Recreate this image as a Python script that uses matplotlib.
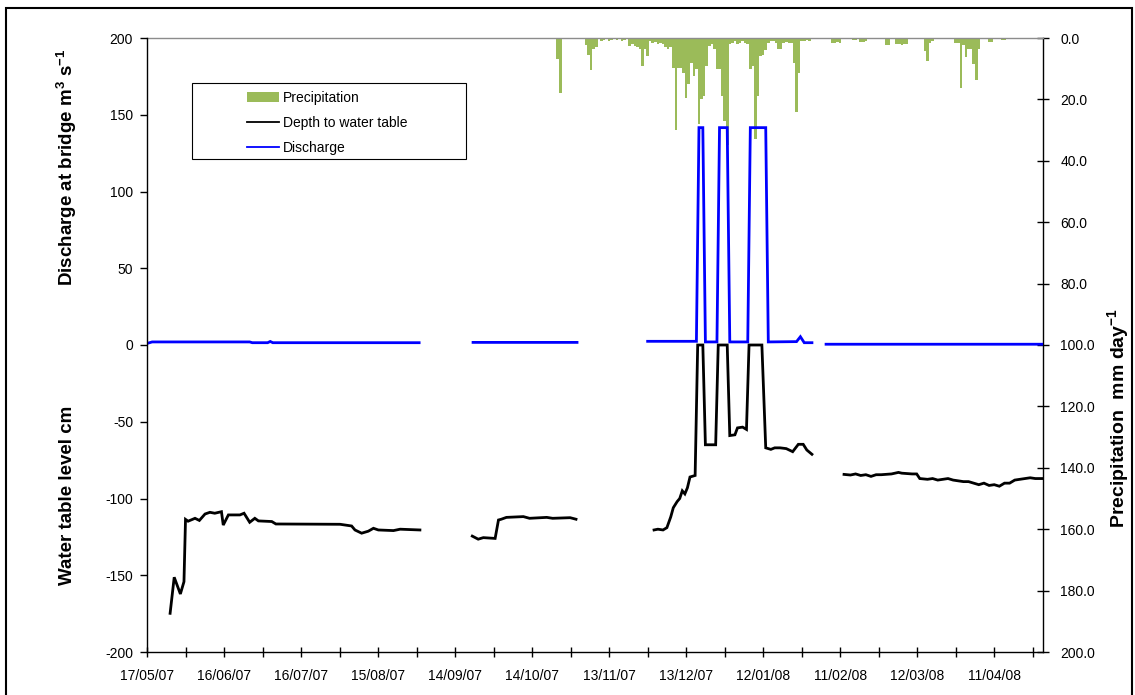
import numpy as np
import pandas as pd
import matplotlib
matplotlib.use('Agg')
import matplotlib.pyplot as plt
import matplotlib.dates as mdates
from matplotlib.lines import Line2D
from matplotlib.patches import Patch, Rectangle
from matplotlib.ticker import FixedLocator, FormatStrFormatter

plt.rcParams['font.family'] = ['Liberation Sans', 'DejaVu Sans']
plt.rcParams['axes.unicode_minus'] = False
plt.rcParams['mathtext.fontset'] = 'custom'
plt.rcParams['mathtext.rm'] = 'Liberation Sans:bold'
plt.rcParams['mathtext.bf'] = 'Liberation Sans:bold'
plt.rcParams['mathtext.it'] = 'Liberation Sans:bold'
plt.rcParams['mathtext.default'] = 'bf'

# ---------------- data ----------------
START = '2007-05-17'
X_END_DAY = 349          # axis end, days after START
TICK_STEP = 30           # labelled ticks every 30 days

# Precipitation (mm/day) -- day offset from START, value
precip_days = [160, 161, 163, 166, 168, 171, 172, 173, 174, 175, 177, 178, 180, 181, 183,
               185, 186, 188, 189, 190, 191, 192, 193, 194, 195, 196, 197, 198, 199, 200,
               201, 202, 203, 204, 205, 206, 207, 208, 209, 210, 211, 212, 213, 214, 215,
               216, 217, 218, 219, 220, 221, 222, 223, 224, 225, 226, 227, 228, 229, 230,
               231, 232, 233, 234, 235, 236, 237, 238, 239, 240, 241, 242, 243, 244, 245,
               246, 247, 248, 249, 250, 251, 252, 253, 254, 255, 256, 257, 258, 267, 268,
               269, 270, 275, 276, 278, 279, 280, 288, 289, 292, 293, 294, 295, 296, 303,
               304, 305, 306, 315, 316, 317, 318, 319, 320, 321, 322, 323, 324, 328, 329,
               333, 334]
precip_mm = [7, 18, 0.4, 0.3, 0.4, 2.3, 5.5, 10.4, 3.5, 3, 1, 0.5, 1, 0.5, 0.5,
             1, 0.5, 2.5, 2, 2.5, 3, 3.7, 9.1, 3.7, 5.9, 1, 1.5, 1.2, 2, 1.5,
             2, 3, 3.5, 3, 9.7, 30, 9.7, 9.7, 11.3, 19.7, 15, 8, 12.4, 10, 28,
             20, 19, 9, 2.5, 2, 3.5, 10, 10, 19, 27, 35, 2, 1.5, 1, 2,
             1.5, 1, 1.5, 2, 10, 9, 33, 19, 6, 5.5, 4, 1.5, 1, 1, 1.5,
             3.7, 3.7, 1.5, 1.2, 1.5, 1.5, 8, 24, 11.3, 1, 1, 0.8, 1, 1.5, 1.5,
             1.2, 1.5, 0.8, 0.8, 1.3, 1.3, 1, 2.4, 2.4, 2, 2, 2.2, 2, 2, 4.2,
             7.5, 1.5, 1, 1.5, 1.5, 16.2, 2.4, 6.1, 3.7, 3.7, 8.6, 13.7, 3.7, 1.3, 1.3,
             0.7, 0.7]

# Discharge at bridge (m3/s) -- NaN marks a gap in the record
discharge_days = [0, 2, 40, 41, 47, 48, 49, 106, 115,
                  127, 167.5, 180,
                  195, 214, 215, 216.5, 217.5, 222, 223, 226, 227, 234, 235, 241, 242,
                  253, 254.5, 256, 259, 262,
                  264.5, 349]
discharge_vals = [1.0, 2.0, 2.0, 1.5, 1.5, 2.3, 1.5, 1.5, np.nan,
                  1.7, 1.7, np.nan,
                  2.4, 2.4, 141.6, 141.6, 2.0, 2.0, 141.6, 141.6, 2.0, 2.0, 141.6, 141.6, 2.0,
                  2.2, 5.4, 1.5, 1.5, np.nan,
                  0.5, 0.5]

# Depth to water table (cm) -- NaN marks a gap in the record
wt_days = [9, 10.6, 13, 14.4, 15, 16, 18.7, 20.4, 22.6, 24.5, 26.4, 29, 29.7, 31.7, 36.2,
           37.8, 40, 42, 43.4, 48.6, 50.2, 75.2, 79.7, 81, 83.6, 86.2, 88.2, 90.1, 96,
           98.6, 106.3, 115,
           126.7, 129, 131, 135.6, 136.9, 138, 140, 146.6, 149, 155.7, 158, 164.8, 167.1, 180,
           197.5, 199, 201, 202.5, 204, 205, 206.5, 207.5, 208.5, 209.5, 210.5, 211.5, 213.5,
           214.5, 216.5, 217.5, 221.5, 222.5, 226, 227, 229, 230, 232, 233.5, 234.5, 239.5,
           241, 243, 244.5, 246.6, 249, 251.5, 253.7, 255.6, 257, 259, 265,
           271.5, 274, 276, 278, 280, 282, 284, 286, 290, 292.7, 294, 298, 299.8, 301, 304,
           306, 308, 310, 312, 314, 316, 318, 320, 322, 324, 326, 328, 330, 332, 334, 336,
           338, 340, 342, 344, 346, 349]
wt_vals = [-174.8, -151.3, -162.2, -154.2, -113.6, -114.8, -112.9, -114.3, -110.1, -109,
           -109.6, -108.6, -117.3, -110.7, -110.7, -109.6, -115.5, -112.9, -114.6, -115,
           -116.6, -116.8, -117.9, -120.5, -122.6, -121.3, -119.4, -120.5, -120.9, -120,
           -120.5, np.nan,
           -124.5, -126.5, -125.5, -126, -114, -113.5, -112.3, -111.8, -112.9, -112.3, -112.9,
           -112.5, -113.5, np.nan,
           -120.5, -120, -120.5, -119, -112, -106, -102, -100, -95, -97, -93, -86, -85,
           0, 0, -65, -65, 0, 0, -59, -58.5, -54, -53.5, -55, 0, 0,
           -67, -68, -67, -67, -67.5, -69.5, -64.7, -64.7, -68.4, -71.2, np.nan,
           -84.3, -84.7, -84, -85, -84.5, -85.6, -84.5, -84.5, -84, -83, -83.5, -84, -84,
           -87, -87.5, -87, -88, -87.5, -87, -88, -88.5, -89, -89, -90, -91, -90, -91.5,
           -91, -92, -90, -90, -88, -87.5, -87, -86.5, -87, -87]

# ---------------- figure ----------------
W, H = 1135, 695
fig = plt.figure(figsize=(W / 100, H / 100), dpi=100)
ax = fig.add_axes([147 / W, 1 - 652 / H, (1043 - 147) / W, (652 - 38) / H])
ax2 = ax.twinx()
ax.set_zorder(2)
ax2.set_zorder(1)
ax.patch.set_visible(False)

start = pd.Timestamp(START)
to_num = lambda d: mdates.date2num(start + pd.to_timedelta(np.asarray(d, dtype=float), unit='D'))

# precipitation bars (secondary axis, inverted)
ax2.bar(to_num(precip_days), precip_mm, width=1.0, color='#9BBB59', linewidth=0,
        align='center')
ax2.set_ylim(200, 0)
ax2.yaxis.set_major_locator(FixedLocator(np.arange(0, 201, 20)))
ax2.yaxis.set_major_formatter(FormatStrFormatter('%.1f'))

# lines (primary axis)
ax.plot(to_num(discharge_days), discharge_vals, color='#0000FF', lw=2.0,
        solid_joinstyle='miter')
ax.plot(to_num(wt_days), wt_vals, color='black', lw=2.0, solid_joinstyle='miter')

ax.set_ylim(-200, 200)
ax.set_yticks(np.arange(-200, 201, 50))
ax.set_xlim(to_num([0])[0], to_num([X_END_DAY])[0])
major = to_num(np.arange(0, X_END_DAY, TICK_STEP))
minor = to_num(np.arange(TICK_STEP / 2, X_END_DAY, TICK_STEP))
ax.xaxis.set_major_locator(FixedLocator(major))
ax.xaxis.set_minor_locator(FixedLocator(minor))
ax.xaxis.set_major_formatter(mdates.DateFormatter('%d/%m/%y'))

# spines / ticks
for s in ['top', 'right']:
    ax.spines[s].set_visible(False)
ax2.spines['left'].set_visible(False)
ax2.spines['bottom'].set_visible(False)
ax2.spines['top'].set_color('#8c8c8c')
ax2.spines['right'].set_color('black')
ax.spines['left'].set_color('black')
ax.spines['bottom'].set_color('black')
for sp in list(ax.spines.values()) + list(ax2.spines.values()):
    sp.set_linewidth(1.0)

ax.tick_params(axis='x', which='both', direction='inout', length=7, width=1,
               labelsize=10, pad=9)
ax.tick_params(axis='y', direction='out', length=5, width=1, labelsize=10, pad=5)
ax2.tick_params(axis='y', direction='inout', length=9, width=1, labelsize=10, pad=8)

# axis titles
fig.text(67 / W, 1 - 167 / H, r'Discharge at bridge m$^{3}$ s$^{-1}$', rotation=90,
         ha='center', va='center', fontsize=13.5, fontweight='bold')
fig.text(67 / W, 1 - 495 / H, 'Water table level cm', rotation=90,
         ha='center', va='center', fontsize=13.5, fontweight='bold')
fig.text(1118 / W, 1 - 418 / H, r'Precipitation  mm day$^{-1}$', rotation=90,
         ha='center', va='center', fontsize=14, fontweight='bold')

# legend
handles = [Patch(facecolor='#9BBB59', edgecolor='none'),
           Line2D([], [], color='black', lw=1.3),
           Line2D([], [], color='#0000FF', lw=1.3)]
labels = ['Precipitation', 'Depth to water table', 'Discharge']
fig.legend(handles, labels, loc='upper left', bbox_to_anchor=(247 / W, 1 - 91 / H),
           bbox_transform=fig.transFigure, frameon=False, fontsize=10,
           handlelength=2.3, handletextpad=0.3, labelspacing=0.78, borderpad=0,
           borderaxespad=0)
fig.add_artist(Rectangle((192 / W, 1 - 159 / H), (466 - 192) / W, (159 - 83) / H,
                         transform=fig.transFigure, fill=False, edgecolor='black', lw=0.8))

# outer chart border
fig.add_artist(Rectangle((6 / W, -0.05), (1132 - 6) / W, 1.05 - 8 / H,
                         transform=fig.transFigure, fill=False, edgecolor='black', lw=1.5))

fig.savefig('out.png', dpi=100)
